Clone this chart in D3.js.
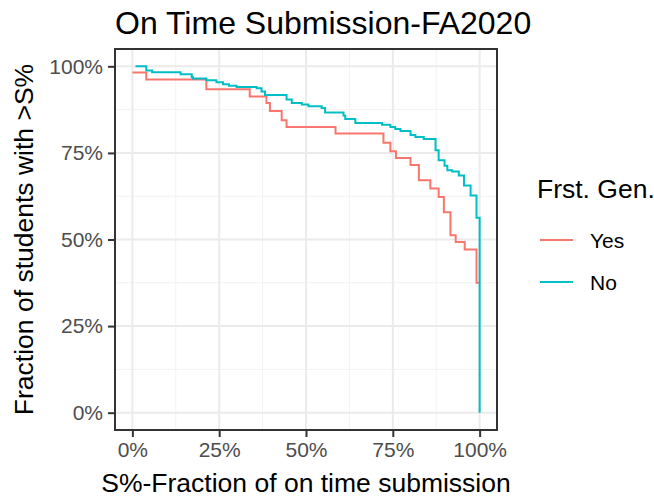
<!DOCTYPE html>
<html>
<head>
<meta charset="utf-8">
<script src="https://cdn.jsdelivr.net/npm/d3@7"></script>
<style>
  body { margin: 0; background: #fff; }
  text { font-family: "Liberation Sans", Arial, sans-serif; }
</style>
</head>
<body>
<div id="chart"></div>
<script>
// step curves: S (fraction on time) and share of students above it
var yesX = [0, 0.040, 0.213, 0.338, 0.386, 0.396, 0.430, 0.444, 0.585, 0.723, 0.743, 0.759,
            0.801, 0.825, 0.858, 0.882, 0.897, 0.916, 0.931, 0.957, 0.991, 1.0];
var yesY = [0.982, 0.962, 0.934, 0.913, 0.894, 0.871, 0.844, 0.825, 0.806, 0.779, 0.755, 0.735,
            0.715, 0.671, 0.647, 0.623, 0.579, 0.512, 0.493, 0.471, 0.375, 0.375];

var noX = [0.009, 0.040, 0.057, 0.139, 0.171, 0.174, 0.213, 0.242, 0.261, 0.278, 0.300, 0.358,
           0.372, 0.382, 0.444, 0.459, 0.488, 0.507, 0.545, 0.555, 0.608, 0.613, 0.642, 0.719,
           0.743, 0.757, 0.772, 0.801, 0.815, 0.839, 0.873, 0.882, 0.899, 0.907, 0.921, 0.940,
           0.955, 0.974, 0.991, 1.0];
var noY = [1.0, 0.988, 0.983, 0.977, 0.969, 0.965, 0.960, 0.954, 0.948, 0.944, 0.940, 0.937,
           0.927, 0.917, 0.904, 0.894, 0.890, 0.885, 0.880, 0.867, 0.858, 0.848, 0.836, 0.831,
           0.825, 0.819, 0.813, 0.802, 0.796, 0.790, 0.758, 0.729, 0.713, 0.700, 0.696, 0.685,
           0.656, 0.627, 0.563, 0.0];

var groups = ['Yes', 'No'];
var colors = ['#F8766D', '#00BFC4'];
var tickVals = [0, 0.25, 0.5, 0.75, 1];
var tickLabels = ['0%', '25%', '50%', '75%', '100%'];
var minorVals = [0.125, 0.375, 0.625, 0.875];

var W = 654, H = 499;
var panel = { left: 115, right: 497, top: 49, bottom: 430 };

var svg = d3.select('#chart').append('svg')
  .attr('width', W)
  .attr('height', H);

var x = d3.scaleLinear().domain([-0.05, 1.05]).range([panel.left, panel.right]);
var y = d3.scaleLinear().domain([-0.05, 1.05]).range([panel.bottom, panel.top]);

// grid
var grid = svg.append('g');
minorVals.forEach(function(v) {
  grid.append('line').attr('x1', x(v)).attr('x2', x(v)).attr('y1', panel.top).attr('y2', panel.bottom)
    .attr('stroke', '#f2f2f2').attr('stroke-width', 1);
  grid.append('line').attr('y1', y(v)).attr('y2', y(v)).attr('x1', panel.left).attr('x2', panel.right)
    .attr('stroke', '#f2f2f2').attr('stroke-width', 1);
});
tickVals.forEach(function(v) {
  grid.append('line').attr('x1', x(v)).attr('x2', x(v)).attr('y1', panel.top).attr('y2', panel.bottom)
    .attr('stroke', '#ebebeb').attr('stroke-width', 2);
  grid.append('line').attr('y1', y(v)).attr('y2', y(v)).attr('x1', panel.left).attr('x2', panel.right)
    .attr('stroke', '#ebebeb').attr('stroke-width', 2);
});

// step lines
var line = d3.line()
  .x(function(d) { return x(d[0]); })
  .y(function(d) { return y(d[1]); })
  .curve(d3.curveStepAfter);

var series = [d3.zip(yesX, yesY), d3.zip(noX, noY)];
series.forEach(function(s, i) {
  svg.append('path')
    .datum(s)
    .attr('d', line)
    .attr('fill', 'none')
    .attr('stroke', colors[i])
    .attr('stroke-width', 2);
});

// panel border
svg.append('rect')
  .attr('x', panel.left).attr('y', panel.top)
  .attr('width', panel.right - panel.left).attr('height', panel.bottom - panel.top)
  .attr('fill', 'none').attr('stroke', '#333333').attr('stroke-width', 2);

// axes
var xAxis = d3.axisBottom(x).tickValues(tickVals)
  .tickFormat(function(d, i) { return tickLabels[i]; })
  .tickSize(6).tickPadding(5);
var gx = svg.append('g').attr('transform', 'translate(0,' + (panel.bottom + 1) + ')').call(xAxis);
gx.select('.domain').remove();
gx.selectAll('line').attr('stroke', '#333333').attr('stroke-width', 2);
gx.selectAll('text').attr('fill', '#4d4d4d').style('font-size', '21px')
  .style('font-family', '"Liberation Sans", Arial, sans-serif');

var yAxis = d3.axisLeft(y).tickValues(tickVals)
  .tickFormat(function(d, i) { return tickLabels[i]; })
  .tickSize(6).tickPadding(5);
var gy = svg.append('g').attr('transform', 'translate(' + (panel.left - 1) + ',0)').call(yAxis);
gy.select('.domain').remove();
gy.selectAll('line').attr('stroke', '#333333').attr('stroke-width', 2);
gy.selectAll('text').attr('fill', '#4d4d4d').style('font-size', '21px')
  .style('font-family', '"Liberation Sans", Arial, sans-serif');

// titles
svg.append('text')
  .attr('x', panel.left).attr('y', 34)
  .style('font-size', '32px').attr('fill', '#000')
  .text('On Time Submission-FA2020');

svg.append('text')
  .attr('x', (panel.left + panel.right) / 2).attr('y', 492)
  .attr('text-anchor', 'middle')
  .style('font-size', '26.5px').attr('fill', '#000')
  .text('S%-Fraction of on time submission');

svg.append('text')
  .attr('transform', 'translate(33,' + ((panel.top + panel.bottom) / 2) + ') rotate(-90)')
  .attr('text-anchor', 'middle')
  .style('font-size', '26.5px').attr('fill', '#000')
  .text('Fraction of students with >S%');

// legend
var legend = svg.append('g');
legend.append('text')
  .attr('x', 537).attr('y', 198)
  .style('font-size', '26.5px').attr('fill', '#000')
  .text('Frst. Gen.');

groups.forEach(function(g, i) {
  var cy = 240 + i * 42;
  legend.append('line')
    .attr('x1', 540).attr('x2', 573).attr('y1', cy).attr('y2', cy)
    .attr('stroke', colors[i]).attr('stroke-width', 2);
  legend.append('text')
    .attr('x', 590).attr('y', cy + 8)
    .style('font-size', '21px').attr('fill', '#000')
    .text(g);
});
</script>
</body>
</html>
